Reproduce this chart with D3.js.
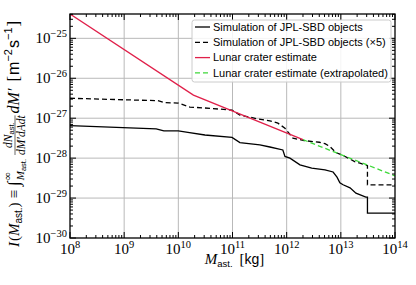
<!DOCTYPE html>
<html lang="en">
<head>
<meta charset="UTF-8">
<title>Impact rate</title>
<script src="https://d3js.org/d3.v7.min.js"></script>
<style>
  body { margin: 0; background: #fff; }
  svg { display: block; }
</style>
</head>
<body>
<svg id="chart" width="416" height="285"></svg>
<script>
// values
var xTickExps = [8, 9, 10, 11, 12, 13, 14];
var yTickExps = [-30, -29, -28, -27, -26, -25];

var simMass = [1e8, 9.5e8, 3.9e9, 5.4e9, 1e10, 1.5e10, 3.1e10, 9.8e10, 1.37e11, 3.2e11, 4.9e11, 8.5e11,
  9.3e11, 1.15e12, 1.76e12, 2.9e12, 5.1e12, 7.2e12, 8.5e12, 9.6e12, 1.1e13, 1.48e13, 1.9e13, 2.9e13,
  3.1e13, 3.1e13, 1e14];
var simRate = [6.5e-28, 5.8e-28, 5.4e-28, 4.8e-28, 4.8e-28, 4.4e-28, 3.8e-28, 3.3e-28, 2.45e-28, 2.15e-28,
  1.9e-28, 1.6e-28, 1.1e-28, 1.0e-28, 6.8e-29, 5.6e-29, 5.1e-29, 4.5e-29, 3.35e-29, 2.4e-29, 2.15e-29,
  1.8e-29, 1.33e-29, 1.06e-29, 1.06e-29, 4.2e-30, 4.2e-30];

var sim5Mass = [1e8, 9.5e8, 4.2e9, 5.7e9, 9.9e9, 1.64e10, 3.1e10, 9.8e10, 1.37e11, 2.95e11, 4.9e11, 6.9e11,
  9.3e11, 1.31e12, 2.1e12, 4.0e12, 5.1e12, 6.3e12, 8.1e12, 9.6e12, 1.2e13, 1.8e13, 2.25e13, 3.1e13,
  3.1e13, 1e14];
var sim5Rate = [3.16e-27, 2.9e-27, 2.75e-27, 2.45e-27, 2.4e-27, 1.9e-27, 1.8e-27, 1.6e-27, 1.2e-27, 9.6e-28,
  8.6e-28, 7.5e-28, 5.6e-28, 3.16e-28, 2.75e-28, 2.5e-28, 2.3e-28, 1.95e-28, 1.38e-28, 1.26e-28, 1.1e-28,
  8.2e-29, 7.5e-29, 6.5e-29, 2.15e-29, 2.15e-29];

var craterMass = [1e8, 1.9e10, 2e12];
var craterRate = [4.07e-25, 3.8e-27, 2.9e-28];

var extrapMass = [2e12, 1e14];
var extrapRate = [2.9e-28, 3.6e-29];

var legendLabels = [
  "Simulation of JPL-SBD objects",
  "Simulation of JPL-SBD objects (\u00d75)",
  "Lunar crater estimate",
  "Lunar crater estimate (extrapolated)"
];

var svg = d3.select("#chart");
var margin = { left: 70, right: 21, top: 14, bottom: 47 };
var width = 416 - margin.left - margin.right,
    height = 285 - margin.top - margin.bottom;

var serif = "'Liberation Serif', 'DejaVu Serif', serif";
var sans = "'Liberation Sans', 'DejaVu Sans', sans-serif";

var x = d3.scaleLog().domain([1e8, 1e14]).range([0, width]);
var y = d3.scaleLog().domain([1e-30, 4.07e-25]).range([height, 0]);

var g = svg.append("g").attr("transform", "translate(" + margin.left + "," + margin.top + ")");

// grid
var gridCol = "#b9b9b9";
g.append("g").selectAll("line").data(xTickExps.slice(1, -1)).join("line")
  .attr("x1", function (d) { return x(Math.pow(10, d)); })
  .attr("x2", function (d) { return x(Math.pow(10, d)); })
  .attr("y1", 0).attr("y2", height)
  .attr("stroke", gridCol).attr("stroke-width", 1);
g.append("g").selectAll("line").data(yTickExps.slice(1)).join("line")
  .attr("y1", function (d) { return y(Math.pow(10, d)); })
  .attr("y2", function (d) { return y(Math.pow(10, d)); })
  .attr("x1", 0).attr("x2", width)
  .attr("stroke", gridCol).attr("stroke-width", 1);

// curves
svg.append("defs").append("clipPath").attr("id", "clip")
  .append("rect").attr("width", width).attr("height", height);
var plot = g.append("g").attr("clip-path", "url(#clip)");

function lineOf(ms, rs) {
  return d3.line()(ms.map(function (m, i) { return [x(m), y(rs[i])]; }));
}

var series = [
  { m: simMass, r: simRate, color: "#000", dash: null },
  { m: sim5Mass, r: sim5Rate, color: "#000", dash: "5,3" },
  { m: craterMass, r: craterRate, color: "#e0204a", dash: null },
  { m: extrapMass, r: extrapRate, color: "#3ed83a", dash: "5,3" }
];
series.forEach(function (s) {
  plot.append("path")
    .attr("d", lineOf(s.m, s.r))
    .attr("fill", "none")
    .attr("stroke", s.color)
    .attr("stroke-width", 1.3)
    .attr("stroke-dasharray", s.dash);
});

// ticks, all four sides, pointing in
var xMinor = [], yMinor = [];
for (var e = 8; e < 14; e++) for (var k = 2; k <= 9; k++) xMinor.push(k * Math.pow(10, e));
for (var e2 = -30; e2 < -24; e2++) for (var k2 = 2; k2 <= 9; k2++) {
  var v = k2 * Math.pow(10, e2);
  if (v <= 4.07e-25) yMinor.push(v);
}
var ticks = g.append("g").attr("stroke", "#000");
function xt(vals, len) {
  vals.forEach(function (v) {
    ticks.append("line").attr("x1", x(v)).attr("x2", x(v)).attr("y1", height).attr("y2", height - len);
    ticks.append("line").attr("x1", x(v)).attr("x2", x(v)).attr("y1", 0).attr("y2", len);
  });
}
function yt(vals, len) {
  vals.forEach(function (v) {
    ticks.append("line").attr("y1", y(v)).attr("y2", y(v)).attr("x1", 0).attr("x2", len);
    ticks.append("line").attr("y1", y(v)).attr("y2", y(v)).attr("x1", width).attr("x2", width - len);
  });
}
xt(xTickExps.map(function (d) { return Math.pow(10, d); }), 6);
xt(xMinor, 3);
yt(yTickExps.map(function (d) { return Math.pow(10, d); }), 6);
yt(yMinor, 3);
ticks.selectAll("line").attr("stroke-width", 1);

g.append("rect").attr("width", width).attr("height", height)
  .attr("fill", "none").attr("stroke", "#000").attr("stroke-width", 1.3);

// tick labels
function powLabel(sel, exp) {
  sel.append("tspan").text("10");
  sel.append("tspan").attr("dy", -6).attr("font-size", 10.5)
    .text(exp < 0 ? "\u2212" + (-exp) : exp);
}
xTickExps.forEach(function (d) {
  var t = g.append("text").attr("x", x(Math.pow(10, d)))
    .attr("y", height + 16).attr("text-anchor", "middle")
    .attr("font-family", serif).attr("font-size", 15);
  powLabel(t, d);
});
yTickExps.forEach(function (d) {
  var t = g.append("text").attr("x", -3)
    .attr("y", y(Math.pow(10, d)) + 5).attr("text-anchor", "end")
    .attr("font-family", serif).attr("font-size", 15);
  powLabel(t, d);
});

// x label
var xl = svg.append("text").attr("x", margin.left + width / 2 + 2).attr("y", 264)
  .attr("text-anchor", "middle").attr("font-family", serif).attr("font-size", 15);
xl.append("tspan").attr("font-style", "italic").text("M");
xl.append("tspan").attr("font-family", sans).attr("font-size", 9.5).attr("dy", 3).text("ast.");
xl.append("tspan").attr("dy", -3).text("\u2009 [");
xl.append("tspan").attr("font-family", sans).attr("font-size", 14).text("kg");
xl.append("tspan").text("]");

// y label, built piece by piece
var yl = svg.append("g").attr("transform", "translate(19,247) rotate(-90)");
var cx = 0;
function put(txt, opt) {
  opt = opt || {};
  var t = yl.append("text").attr("x", opt.x != null ? opt.x : cx).attr("y", opt.y || 0)
    .attr("font-family", opt.sans ? sans : serif)
    .attr("font-size", opt.size || 15)
    .attr("font-style", opt.italic ? "italic" : null)
    .text(txt);
  var w = t.node().getComputedTextLength();
  if (!opt.keep) cx += w;
  return w;
}
put("I", { italic: true });
cx += 1;
put("(");
put("M", { italic: true });
put("ast.", { sans: true, size: 10, y: 3 });
put(")");
cx += 4;
put("\u2261");
cx += 4;
put("\u222b", { size: 17 });
cx += 1;
var lx = cx;
var w1 = put("\u221e", { size: 11, y: -8, keep: true });
var w2 = put("M", { size: 11, y: 5, italic: true, x: lx, keep: true });
var w3 = put("ast.", { size: 7.5, y: 7, sans: true, x: lx + w2, keep: true });
cx = lx + Math.max(w1, w2 + w3) + 4;
// fraction
var fx = cx;
var nw = yl.append("text").attr("font-family", serif).attr("font-size", 11.5).attr("y", -7);
nw.append("tspan").attr("font-style", "italic").text("dN");
nw.append("tspan").attr("font-family", sans).attr("font-size", 7.5).attr("dy", 2).text("ast.");
var dw = yl.append("text").attr("font-family", serif).attr("font-size", 11.5).attr("y", 6)
  .attr("font-style", "italic").text("dM\u2032dAdt");
var nW = nw.node().getComputedTextLength(), dW = dw.node().getComputedTextLength();
var fW = Math.max(nW, dW);
nw.attr("x", fx + (fW - nW) / 2);
dw.attr("x", fx + (fW - dW) / 2);
yl.append("line").attr("x1", fx).attr("x2", fx + fW).attr("y1", -4).attr("y2", -4)
  .attr("stroke", "#000").attr("stroke-width", 0.6);
cx = fx + fW + 2;
put("dM\u2032", { italic: true, size: 16 });
cx += 7;
put("[", { size: 17 });
cx += 1;
put("m", { sans: true, size: 16 });
put("\u22122", { sans: true, size: 11, y: -7 });
cx += 1;
put("s", { sans: true, size: 16 });
put("\u22121", { sans: true, size: 11, y: -7 });
cx += 1;
put("]", { size: 17 });

// legend
var lg = g.append("g").attr("transform", "translate(122,6)");
lg.append("rect").attr("width", 199).attr("height", 62).attr("rx", 2.5)
  .attr("fill", "#fff").attr("fill-opacity", 0.85)
  .attr("stroke", "#cccccc").attr("stroke-width", 1);
legendLabels.forEach(function (lab, i) {
  var yy = 7 + i * 15.3;
  lg.append("line").attr("x1", 3).attr("x2", 18).attr("y1", yy).attr("y2", yy)
    .attr("stroke", series[i].color).attr("stroke-width", 1.3)
    .attr("stroke-dasharray", series[i].dash);
  lg.append("text").attr("x", 21).attr("y", yy + 3.8)
    .attr("font-family", sans).attr("font-size", 11).attr("fill", "#000")
    .text(lab);
});
</script>
</body>
</html>
